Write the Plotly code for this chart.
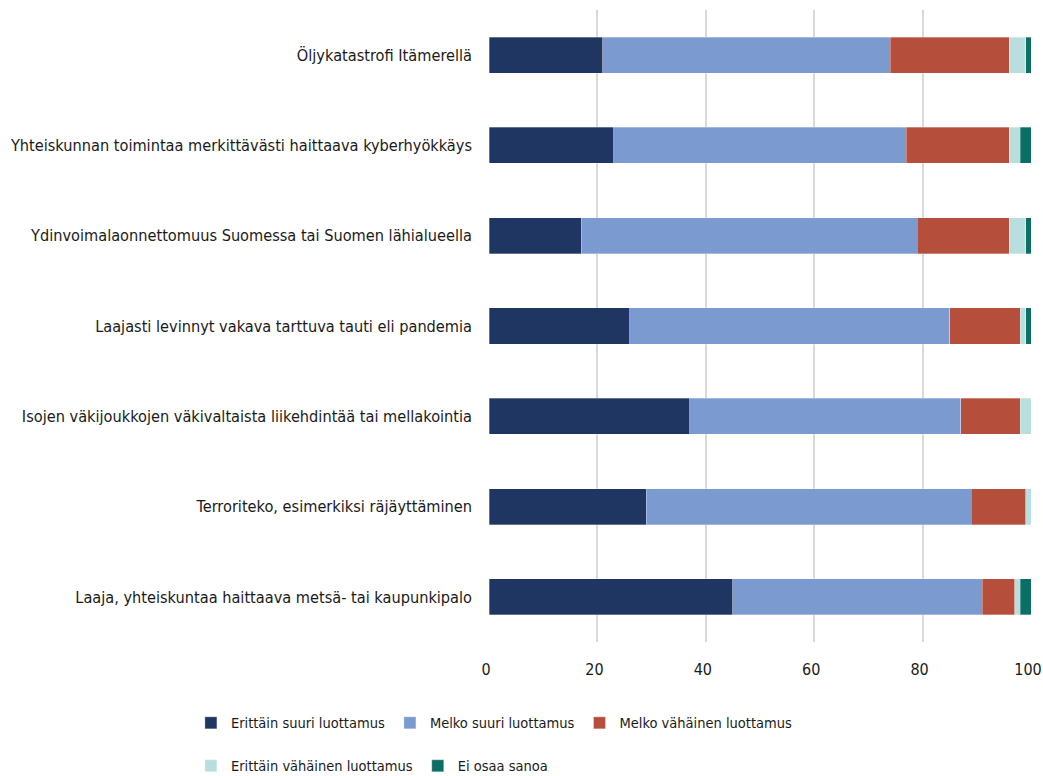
import plotly.graph_objects as go

categories = [
    "Öljykatastrofi Itämerellä",
    "Yhteiskunnan toimintaa merkittävästi haittaava kyberhyökkäys",
    "Ydinvoimalaonnettomuus Suomessa tai Suomen lähialueella",
    "Laajasti levinnyt vakava tarttuva tauti eli pandemia",
    "Isojen väkijoukkojen väkivaltaista liikehdintää tai mellakointia",
    "Terroriteko, esimerkiksi räjäyttäminen",
    "Laaja, yhteiskuntaa haittaava metsä- tai kaupunkipalo",
]

erittain_suuri = [21, 23, 17, 26, 37, 29, 45]
melko_suuri = [53, 54, 62, 59, 50, 60, 46]
melko_vahainen = [22, 19, 17, 13, 11, 10, 6]
erittain_vahainen = [3, 2, 3, 1, 2, 1, 1]
ei_osaa = [1, 2, 1, 1, 0, 0, 2]

series_names = [
    "Erittäin suuri luottamus",
    "Melko suuri luottamus",
    "Melko vähäinen luottamus",
    "Erittäin vähäinen luottamus",
    "Ei osaa sanoa",
]
series_values = [erittain_suuri, melko_suuri, melko_vahainen, erittain_vahainen, ei_osaa]
colors = ["#1F3562", "#7A9AD0", "#B54F3B", "#B9DEDE", "#0B6F66"]
legend_ids = ["legend", "legend", "legend", "legend2", "legend2"]

x_ticks = [0, 20, 40, 60, 80, 100]

FONT = "DejaVu Sans Condensed, Liberation Sans Narrow, sans-serif"

fig = go.Figure()
for name, vals, col, lg in zip(series_names, series_values, colors, legend_ids):
    fig.add_trace(go.Bar(
        y=categories, x=vals, name=name, orientation="h",
        marker=dict(color=col, line=dict(color="rgba(255,255,255,0.6)", width=0.5)),
        legend=lg,
    ))

legend_font = dict(family=FONT, size=14.5, color="#1a1a1a")

fig.update_layout(
    barmode="stack",
    bargap=0.6,
    width=1043, height=776,
    margin=dict(l=489, r=12, t=10, b=134, autoexpand=False),
    plot_bgcolor="white", paper_bgcolor="white",
    font=dict(family=FONT, size=16, color="#1a1a1a"),
    xaxis=dict(
        range=[0, 100], tickvals=x_ticks, showgrid=True, gridcolor="#D9D9D9",
        gridwidth=1.5, zeroline=False, showline=False, ticks="",
        tickfont=dict(family=FONT, size=16, color="#1a1a1a"),
        ticklabelstandoff=16, ticklabelshift=-3, ticklabeloverflow="allow",
        automargin=False,
    ),
    yaxis=dict(
        autorange="reversed", showgrid=False, ticks="", showline=False,
        tickfont=dict(family=FONT, size=16.2, color="#1a1a1a"),
        ticklabelstandoff=16, automargin=False,
    ),
    legend=dict(
        x=-0.55, y=-0.128, orientation="h", xanchor="left", yanchor="middle",
        font=legend_font, entrywidth=0,
        bgcolor="rgba(0,0,0,0)", traceorder="normal",
    ),
    legend2=dict(
        x=-0.55, y=-0.196, orientation="h", xanchor="left", yanchor="middle",
        font=legend_font, entrywidth=0,
        bgcolor="rgba(0,0,0,0)", traceorder="normal",
    ),
    showlegend=True,
)

fig.write_html(
    "out.html",
    config={"displayModeBar": False},
    post_script="document.body.style.margin='0';document.body.style.overflow='hidden';",
)
